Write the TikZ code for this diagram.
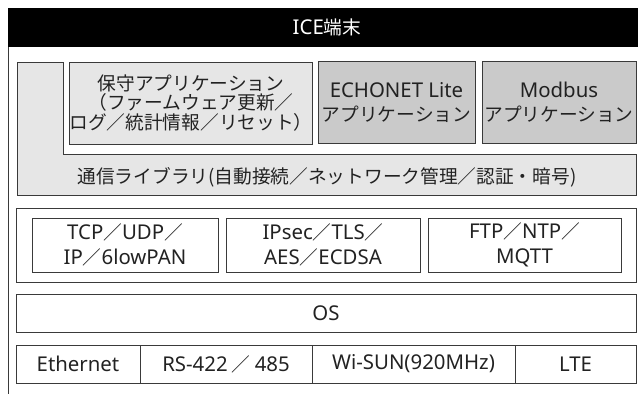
\documentclass[tikz,border=0pt]{standalone}
\usepackage{fontspec}
\setmainfont{Noto Sans CJK JP}
\newfontfamily\latf{Noto Sans}[Scale=1.09]
\definecolor{lightg}{HTML}{E6E6E6}
\definecolor{midg}{HTML}{CACACA}
\definecolor{linec}{HTML}{3A3A3A}
\definecolor{textc}{HTML}{222222}
\tikzset{
  lab/.style={font=\fontsize{18.7}{19.8}\selectfont, text=textc, align=center, inner sep=0pt},
  blk/.style={draw=linec, line width=0.9pt, lab},
  twoa/.style={font=\fontsize{18.7}{23.5}\selectfont},
  twon/.style={font=\fontsize{18.7}{25}\selectfont},
}
\begin{document}
\begin{tikzpicture}[x=1pt,y=-1pt]
\useasboundingbox (0,0) rectangle (638,394);
% header
\fill[black] (8,8) rectangle (638,47);
\node[lab, text=white] (hdr) at (327,27.5) {{\latf ICE}端末};
\coordinate (ftop) at (8.5,47);
\coordinate (fbot) at (8.5,394);
\draw[line width=1.1pt, draw=linec] (ftop) -- (fbot);
% library L-shape
\draw[draw=linec, line width=0.9pt, fill=lightg]
  (17,62) -- (63,62) -- (63,154) -- (636,154) -- (636,195) -- (17,195) -- cycle;
\node[lab] (lib) at (327,177) {通信ライブラリ(自動接続／ネットワーク管理／認証・暗号)};
% applications
\node[blk, fill=lightg, minimum width=242pt, minimum height=82pt] (maint) at (191,103)
  {保守アプリケーション\\（ファームウェア更新／\\ログ／統計情報／リセット）};
\node[blk, twoa, fill=midg, minimum width=157pt, minimum height=82pt] (echo) at (396.5,102.5)
  {{\latf ECHONET Lite}\\アプリケーション};
\node[blk, twoa, fill=midg, minimum width=154pt, minimum height=82pt] (modbus) at (559,102.5)
  {{\latf Modbus}\\アプリケーション};
% network group
\node[blk, minimum width=620pt, minimum height=74pt] (net) at (326,245) {};
\node[blk, twon, minimum width=186pt, minimum height=54pt] (tcp) at (125,245)
  {{\latf TCP}／{\latf UDP}／\\{\latf IP}／{\latf 6lowPAN}};
\node[blk, twon, minimum width=194pt, minimum height=54pt] (ipsec) at (323,245)
  {{\latf IPsec}／{\latf TLS}／\\{\latf AES}／{\latf ECDSA}};
\node[blk, twon, minimum width=193pt, minimum height=54pt] (ftp) at (524.5,245)
  {{\latf FTP}／{\latf NTP}／\\{\latf MQTT}};
% OS
\node[blk, minimum width=620pt, minimum height=38pt] (os) at (326,313) {\latf OS};
% physical row
\node[blk, minimum width=124pt, minimum height=38pt] (eth) at (78,364) {\latf Ethernet};
\node[blk, minimum width=172pt, minimum height=38pt] (rs) at (226,364) {{\latf RS-422} ／ {\latf 485}};
\node[blk, minimum width=203pt, minimum height=38pt] (wisun) at (413.5,364) {\latf Wi-SUN(920MHz)};
\node[blk, minimum width=121pt, minimum height=38pt] (lte) at (575.5,364) {\latf LTE};
\end{tikzpicture}
\end{document}
